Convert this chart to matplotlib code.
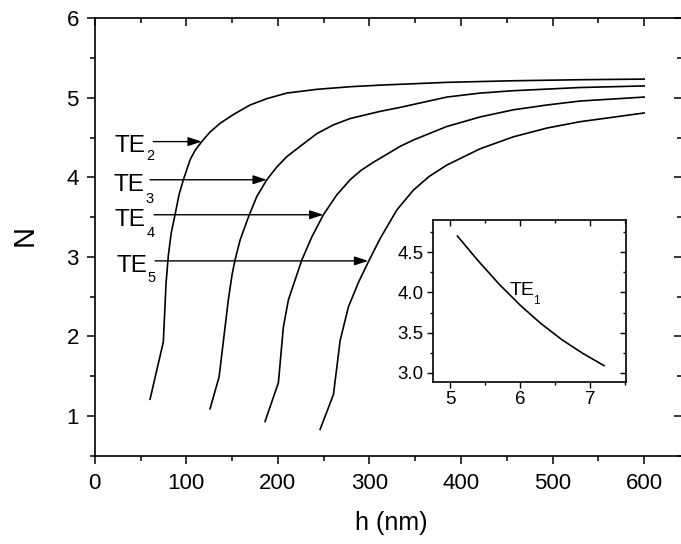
import matplotlib
matplotlib.use("Agg")
import matplotlib.pyplot as plt
from matplotlib.ticker import MultipleLocator, FormatStrFormatter
from matplotlib.lines import TICKDOWN, TICKLEFT

plt.rcParams['font.family'] = ['Liberation Sans', 'DejaVu Sans']

# ---- data ----
te2_h = [60.4, 74.9, 77.9, 80.4, 83.5, 87.7, 92.0, 96.8, 104.1, 109.6, 116.9, 125.9, 136.9,
         151.4, 169.6, 187.9, 209.7, 242.5, 278.9, 311.6, 384.5, 457.2, 530, 600]
te2_n = [1.21, 1.93, 2.67, 3.02, 3.30, 3.53, 3.78, 3.97, 4.22, 4.34, 4.45, 4.57, 4.68,
         4.79, 4.91, 4.99, 5.06, 5.107, 5.14, 5.16, 5.195, 5.215, 5.228, 5.236]

te3_h = [125.9, 135.8, 145.9, 150.0, 153.2, 158.7, 167.8, 177.0, 187.9, 198.8, 209.7, 224.3,
         242.5, 260.6, 278.9, 311.6, 333.5, 384.5, 420.9, 457.2, 530, 600]
te3_n = [1.09, 1.49, 2.46, 2.78, 2.96, 3.21, 3.50, 3.76, 3.97, 4.13, 4.26, 4.39,
         4.55, 4.66, 4.74, 4.83, 4.88, 5.01, 5.06, 5.09, 5.13, 5.15]

te4_h = [186.0, 200.6, 206.0, 211.5, 226.1, 237.0, 249.7, 264.3, 278.9, 291.0, 304.3, 311.6, 333.5,
         348.0, 384.5, 420.9, 457.2, 493.7, 530, 600]
te4_n = [0.93, 1.42, 2.12, 2.46, 2.96, 3.25, 3.53, 3.78, 3.97, 4.09, 4.19, 4.24, 4.39,
         4.47, 4.64, 4.76, 4.85, 4.91, 4.96, 5.01]

te5_h = [246.1, 260.7, 268.0, 277.0, 288.0, 298.9, 311.6, 329.9, 348.0, 365.0, 384.5, 420.9,
         457.2, 493.7, 530, 600]
te5_n = [0.83, 1.27, 1.95, 2.37, 2.68, 2.94, 3.23, 3.59, 3.84, 4.01, 4.155, 4.36,
         4.51, 4.62, 4.70, 4.81]

te1_x = [5.1, 5.4, 5.7, 6.0, 6.3, 6.6, 6.9, 7.2]
te1_y = [4.70, 4.39, 4.10, 3.84, 3.61, 3.41, 3.24, 3.09]

mode_main = ['TE', 'TE', 'TE', 'TE']
mode_sub = ['2', '3', '4', '5']
label_pos = [(21.1, 4.32), (20.3, 3.83), (21.8, 3.387), (23.3, 2.81)]
sub_pos = [(56.8, 4.218), (54.9, 3.68), (56.8, 3.253), (57.5, 2.687)]
arrow_start = [(64.0, 4.45), (60.4, 3.97), (64.8, 3.53), (65.9, 2.95)]
arrow_end = [(116.9, 4.45), (187.9, 3.97), (249.7, 3.53), (298.6, 2.95)]

# ---- figure ----
fig = plt.figure(figsize=(6.81, 5.44), dpi=100)
ax = fig.add_axes([0.1391, 0.1623, 0.8625, 0.804])

for h, n in [(te2_h, te2_n), (te3_h, te3_n), (te4_h, te4_n), (te5_h, te5_n)]:
    ax.plot(h, n, color='black', lw=1.2, solid_joinstyle='round')

for lab, sub, (tx, ty), (sx, sy), s, e in zip(mode_main, mode_sub, label_pos, sub_pos,
                                               arrow_start, arrow_end):
    ax.text(tx, ty, lab, fontsize=17.5, ha='left', va='baseline')
    ax.text(sx, sy, sub, fontsize=10.5, ha='left', va='baseline')
    ax.annotate('', xy=e, xytext=s,
                arrowprops=dict(arrowstyle='-|>,head_length=0.55,head_width=0.18',
                                mutation_scale=15, color='black', lw=1.0,
                                shrinkA=0, shrinkB=0))

ax.set_xlim(0, 641.4)
ax.set_ylim(0.5, 6)
ax.xaxis.set_major_locator(MultipleLocator(100))
ax.xaxis.set_minor_locator(MultipleLocator(50))
ax.yaxis.set_major_locator(MultipleLocator(1))
ax.yaxis.set_minor_locator(MultipleLocator(0.5))
ax.tick_params(axis='both', which='major', direction='out', length=6, width=1.1, labelsize=16)
ax.tick_params(axis='both', which='minor', direction='out', length=3.5, width=1.1)
ax.tick_params(axis='x', which='major', pad=6.5)
ax.tick_params(axis='y', which='major', pad=5.5)
ax.tick_params(top=True, right=True, which='both', labeltop=False, labelright=False)
for sp in ax.spines.values():
    sp.set_linewidth(1.2)
for t in ax.xaxis.get_major_ticks() + ax.xaxis.get_minor_ticks():
    t.tick2line.set_marker(TICKDOWN)
for t in ax.yaxis.get_major_ticks() + ax.yaxis.get_minor_ticks():
    t.tick2line.set_marker(TICKLEFT)

fig.text(25 / 681, 1 - 235 / 544, 'N', fontsize=21, rotation=90, ha='center', va='center')
fig.text(391.7 / 681, 1 - 523 / 544, 'h (nm)', fontsize=18, ha='center', va='center')

# ---- inset ----
ins = fig.add_axes([0.6358, 0.2983, 0.283, 0.2973])
ins.plot(te1_x, te1_y, color='black', lw=1.2, solid_joinstyle='round')
ins.text(5.853, 3.97, 'TE', fontsize=14, ha='left', va='baseline')
ins.text(6.186, 3.855, '1', fontsize=8.5, ha='left', va='baseline')
ins.set_xlim(4.75, 7.51)
ins.set_ylim(2.89, 4.9)
ins.xaxis.set_major_locator(MultipleLocator(1))
ins.xaxis.set_minor_locator(MultipleLocator(0.5))
ins.yaxis.set_major_locator(MultipleLocator(0.5))
ins.yaxis.set_minor_locator(MultipleLocator(0.25))
ins.yaxis.set_major_formatter(FormatStrFormatter('%.1f'))
ins.tick_params(axis='both', which='major', direction='out', length=4, width=1.0, labelsize=13.5, pad=2.5)
ins.tick_params(axis='both', which='minor', direction='out', length=2.5, width=1.0)
ins.tick_params(top=True, right=True, which='both', labeltop=False, labelright=False)
for t in ins.xaxis.get_major_ticks() + ins.xaxis.get_minor_ticks():
    t.tick2line.set_marker(TICKDOWN)
for t in ins.yaxis.get_major_ticks() + ins.yaxis.get_minor_ticks():
    t.tick2line.set_marker(TICKLEFT)
for sp in ins.spines.values():
    sp.set_linewidth(1.2)

fig.savefig('out.png', dpi=100)
